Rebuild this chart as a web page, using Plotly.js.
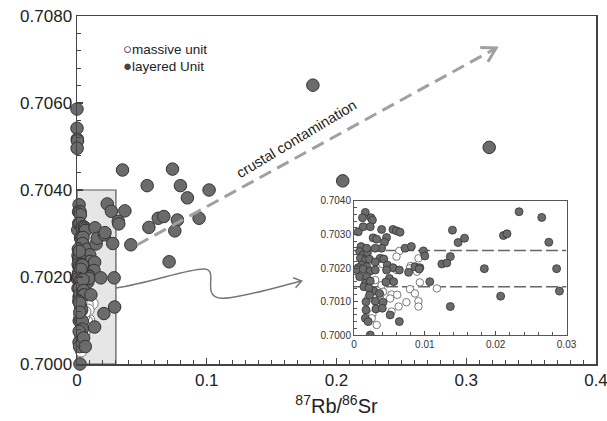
<!DOCTYPE html>
<html>
<head>
<meta charset="utf-8">
<script src="https://cdn.plot.ly/plotly-3.0.1.min.js"></script>
<style>html,body{margin:0;padding:0;background:#fff;}#chart{width:607px;height:421px;}</style>
</head>
<body>
<div id="chart"></div>
<script>
// ---- data: layered unit (filled) ----
var layeredX = [
  0.0016,0.0012,0.0024,0.0026,0.0006,0.0013,0.0023,0.0039,0.0055,0.0060,0.0065,
  0.0027,0.0032,0.0046,0.0043,0.0039,0.0030,0.0010,0.0072,0.0081,0.0098,0.0100,
  0.0139,0.0147,0.0156,0.0136,0.0124,0.0131,0.0008,0.0013,0.0019,0.0009,0.0016,
  0.0022,0.0011,0.0018,0.0006,0.0037,0.0042,0.0047,0.0086,0.0093,0.0055,0.0030,
  0.0018,0.0064,0.0077,0.0092,0.0023,0.0004,0.0013,0.0023,0.0030,0.0008,0.0018,
  0.0016,0.0023,0.0046,0.0050,0.0045,0.0056,0.0107,0.0028,0.0036,0.0017,0.0030,
  0.0041,0.0031,0.0040,0.0017,0.0016,0.0020,0.0051,0.0064,0.0136,0.0014,0.0021,
  0.0022,0.0184,0.0207,0.0211,0.0216,0.0233,0.0265,0.0275,0.0286,0.0290,
  0.0000,0.0000,0.0002,0.0004,0.0001,0.0351,0.0736,0.0541,0.0797,0.0851,0.1018,
  0.0369,0.0318,0.0322,0.0626,0.0669,0.0774,0.0941,0.0554,0.0754,0.0415,0.0710,
  0.1818,0.2048,0.3177
];
var layeredY = [
  0.70366,0.70350,0.70350,0.70343,0.70308,0.70323,0.70323,0.70315,0.70315,0.70311,0.70307,
  0.70290,0.70286,0.70291,0.70277,0.70259,0.70259,0.70264,0.70259,0.70264,0.70251,0.70236,
  0.70313,0.70276,0.70289,0.70234,0.70212,0.70215,0.70249,0.70240,0.70246,0.70229,0.70223,
  0.70226,0.70209,0.70204,0.70201,0.70229,0.70227,0.70209,0.70204,0.70201,0.70201,0.70218,
  0.70259,0.70194,0.70187,0.70197,0.70000,0.70195,0.70197,0.70191,0.70194,0.70174,0.70174,
  0.70154,0.70161,0.70194,0.70169,0.70158,0.70159,0.70159,0.70131,0.70124,0.70099,0.70101,
  0.70098,0.70078,0.70080,0.70075,0.70050,0.70040,0.70060,0.70040,0.70085,0.70144,0.70140,
  0.70119,0.70198,0.70116,0.70297,0.70302,0.70368,0.70351,0.70277,0.70198,0.70131,
  0.70586,0.70542,0.70517,0.70513,0.70496,0.70446,0.70448,0.70410,0.70410,0.70382,0.70400,
  0.70352,0.70328,0.70322,0.70335,0.70339,0.70331,0.70335,0.70314,0.70306,0.70274,0.70235,
  0.70641,0.70421,0.70498
];
// ---- data: massive unit (open) ----
var massiveX = [
  0.0064,0.0060,0.0026,0.0091,0.0080,0.0093,0.0117,0.0079,0.0091,0.0091,0.0074,
  0.0063,0.0053,0.0039,0.0041,0.0053,0.0026,0.0025,0.0032,0.0051,0.0060,0.0079,
  0.0040,0.0089,0.0086,0.0037,0.0030,0.0020,0.0061
];
var massiveY = [
  0.70251,0.70234,0.70212,0.70229,0.70206,0.70157,0.70139,0.70137,0.70101,0.70085,0.70098,
  0.70085,0.70070,0.70149,0.70129,0.70121,0.70062,0.70050,0.70030,0.70109,0.70194,0.70199,
  0.70212,0.70189,0.70124,0.70119,0.70164,0.70110,0.70120
];
// ---- axis ticks / labels ----
var mainXTicks = [0, 0.1, 0.2, 0.3, 0.4];
var mainYTicks = [0.7000, 0.7020, 0.7040, 0.7060, 0.7080];
var insetXTicks = [0, 0.01, 0.02, 0.03];
var insetYTicks = [0.7000, 0.7010, 0.7020, 0.7030, 0.7040];
var xTitle = '<sup>87</sup>Rb/<sup>86</sup>Sr';
var legendNames = ['massive unit', 'layered Unit'];
var arrowLabel = 'crustal contamination';

var FILL = '#6b6b6b', EDGE = '#333333', OPEN_EDGE = '#7a7a7a';

var traces = [
  {x: massiveX, y: massiveY, type:'scatter', mode:'markers', xaxis:'x', yaxis:'y', cliponaxis:false,
   marker:{size:12, color:'#ffffff', line:{color:OPEN_EDGE, width:1}}},
  {x: layeredX, y: layeredY, type:'scatter', mode:'markers', xaxis:'x', yaxis:'y', cliponaxis:false,
   marker:{size:12.5, color:FILL, line:{color:EDGE, width:1}}},
  {x: massiveX, y: massiveY, type:'scatter', mode:'markers', xaxis:'x2', yaxis:'y2',
   marker:{size:7.5, color:'#ffffff', line:{color:OPEN_EDGE, width:1}}},
  {x: layeredX, y: layeredY, type:'scatter', mode:'markers', xaxis:'x2', yaxis:'y2',
   marker:{size:8, color:FILL, line:{color:EDGE, width:0.8}}}
];

var axisCommon = {showgrid:false, zeroline:false, showline:true, mirror:true, ticks:'inside',
  tickcolor:'#444', linecolor:'#444', ticklabeloverflow:'allow'};

var layout = {
  width:607, height:421,
  margin:{l:77, r:11, t:16, b:57, pad:0},
  paper_bgcolor:'#ffffff', plot_bgcolor:'#ffffff',
  showlegend:false,
  font:{family:'"Liberation Sans", Arial, sans-serif', color:'#222'},
  xaxis: Object.assign({}, axisCommon, {
    domain:[0,1], range:[0,0.40001], tickmode:'array', tickvals:mainXTicks,
    ticktext: mainXTicks.map(function(v){return String(v);}),
    ticklen:6, tickwidth:1.2, linewidth:1.5, tickfont:{size:17, color:'#222'},
    minor:{dtick:0.01, tick0:0, ticks:'inside', ticklen:4, tickcolor:'#444', tickwidth:1},
    title:{text:xTitle, font:{size:20, color:'#222'}, standoff:10}
  }),
  yaxis: Object.assign({}, axisCommon, {
    domain:[0,1], range:[0.7,0.708], tickmode:'array', tickvals:mainYTicks,
    ticktext: mainYTicks.map(function(v){return v.toFixed(4);}),
    ticklen:6, tickwidth:1.2, linewidth:1.5, tickfont:{size:17, color:'#222'},
    minor:{dtick:0.0004, tick0:0.7, ticks:'inside', ticklen:4, tickcolor:'#444', tickwidth:1}
  }),
  xaxis2: Object.assign({}, axisCommon, {
    domain:[0.5337,0.9432], anchor:'y2', range:[0,0.03], tickmode:'array', tickvals:insetXTicks,
    ticktext: insetXTicks.map(function(v){return String(v);}),
    ticklen:4, linewidth:1, linecolor:'#555', tickfont:{size:10, color:'#333'},
    minor:{dtick:0.002, tick0:0, ticks:'inside', ticklen:3, tickcolor:'#555'}
  }),
  yaxis2: Object.assign({}, axisCommon, {
    domain:[0.0833,0.4684], anchor:'x2', range:[0.7,0.704], tickmode:'array', tickvals:insetYTicks,
    ticktext: insetYTicks.map(function(v){return v.toFixed(4);}),
    ticklen:4, linewidth:1, linecolor:'#555', tickfont:{size:10, color:'#333'},
    minor:{dtick:0.0002, tick0:0.7, ticks:'inside', ticklen:3, tickcolor:'#555'}
  }),
  shapes: [
    {type:'rect', xref:'x', yref:'y', x0:0, x1:0.03, y0:0.7, y1:0.704, layer:'below',
     fillcolor:'#e6e6e6', line:{color:'#555', width:1.2}},
    {type:'path', xref:'x', yref:'y', layer:'above',
     path:'M0.0300,0.701747 C0.05615,0.701862 0.08692,0.702207 0.09846,0.702184 ' +
          'C0.10692,0.702161 0.10077,0.701816 0.10385,0.701632 ' +
          'C0.10692,0.701471 0.11385,0.701494 0.12538,0.701563 ' +
          'C0.14231,0.701655 0.16,0.701816 0.17308,0.701908',
     line:{color:'#777', width:1.5}},
    {type:'path', xref:'x', yref:'y', layer:'above',
     path:'M0.16662,0.701984 L0.17308,0.701908 L0.16846,0.701754',
     line:{color:'#777', width:1.5}},
    {type:'line', xref:'x', yref:'y', x0:0.04615, y0:0.702736, x1:0.3223, y1:0.70725,
     line:{color:'#a0a0a0', width:3, dash:'13px,7px'}},
    {type:'path', xref:'x', yref:'y',
     path:'M0.31077,0.707274 L0.32308,0.707264 L0.31669,0.706949',
     line:{color:'#a0a0a0', width:3}},
    {type:'line', xref:'x2', yref:'y2', x0:0, x1:0.03, y0:0.70252, y1:0.70252, layer:'below',
     line:{color:'#666', width:1.5, dash:'12px,4px'}},
    {type:'line', xref:'x2', yref:'y2', x0:0, x1:0.03, y0:0.70144, y1:0.70144, layer:'below',
     line:{color:'#666', width:1.5, dash:'12px,4px'}}
  ],
  annotations: [
    {xref:'paper', yref:'paper', x:0.084, y:0.908, xanchor:'left', yanchor:'middle', showarrow:false,
     text:'<span style="font-size:15px">\u25CB</span>' + legendNames[0], font:{size:13.5, color:'#222'}},
    {xref:'paper', yref:'paper', x:0.084, y:0.859, xanchor:'left', yanchor:'middle', showarrow:false,
     text:'<span style="font-size:15px;color:#444">\u25CF</span>' + legendNames[1], font:{size:13.5, color:'#222'}},
    {xref:'x', yref:'y', x:0.1690, y:0.70517, showarrow:false, textangle:-31,
     text:arrowLabel, font:{size:14.5, color:'#222'}}
  ]
};

Plotly.newPlot('chart', traces, layout, {staticPlot:true, displayModeBar:false});
</script>
</body>
</html>
